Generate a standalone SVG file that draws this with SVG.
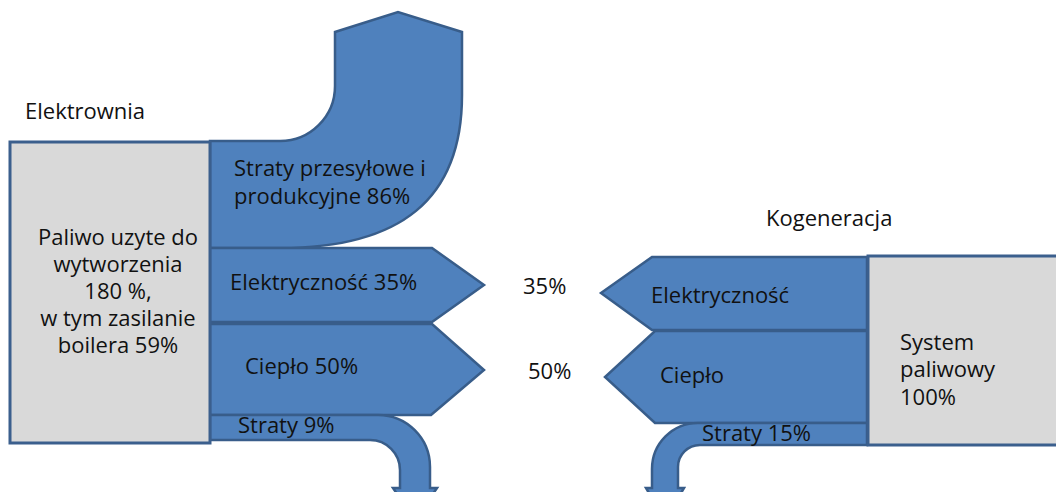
<svg xmlns="http://www.w3.org/2000/svg" width="1056" height="492" viewBox="0 0 1056 492">
<style>
.box{fill:#D9D9D9;stroke:#3B5F8D;stroke-width:3}
.flow{fill:#4F81BD;stroke:#385D8A;stroke-width:2.5;stroke-linejoin:miter}
text{font-family:"Open Sans","DejaVu Sans",sans-serif;font-size:22px;fill:#111}
.c{text-anchor:middle}
</style>
<rect width="1056" height="492" fill="#fff"/>
<g id="labels-top">
<text x="25" y="119">Elektrownia</text>
<text x="766" y="226">Kogeneracja</text>
</g>
<g id="connectors">
<g id="flow-straty86">
<path class="flow" d="M210,141 L280,141 A55,55 0 0 0 335,86 L335,32 L398,12 L462,32 L462,95 C462,200 400,248 280,248 L210,248 Z"/>
<text x="234" y="176">Straty przesyłowe i</text>
<text x="234" y="204">produkcyjne 86%</text>
</g>
<g id="flow-elektr-left">
<path class="flow" d="M210,248 L432,248 L484,285 L432,322 L210,322 Z"/>
<text x="230" y="290">Elektryczność 35%</text>
</g>
<g id="flow-cieplo-left">
<path class="flow" d="M210,324 L432,324 L484,370 L431,415 L210,415 Z"/>
<text x="245" y="374">Ciepło 50%</text>
</g>
<g id="flow-straty9">
<path class="flow" d="M210,415 L378,415 A52,52 0 0 1 430,467 L430,488 L437,488 L415,520 L393,488 L400,488 L400,470 A30,30 0 0 0 370,440 L210,440 Z"/>
<text x="238" y="433">Straty 9%</text>
</g>
<g id="flow-elektr-right">
<path class="flow" d="M867,257 L652,257 L601,293 L652,330 L867,330 Z"/>
<text x="651" y="303">Elektryczność</text>
</g>
<g id="flow-cieplo-right">
<path class="flow" d="M867,331 L655,331 L605,377 L655,423 L867,423 Z"/>
<text x="660" y="383">Ciepło</text>
</g>
<g id="flow-straty15">
<path class="flow" d="M867,423 L698,423 A46,46 0 0 0 652,469 L652,488 L646,488 L665,520 L684,488 L678,488 L678,467 A22,22 0 0 1 700,445 L867,445 Z"/>
<text x="702" y="441">Straty 15%</text>
</g>
</g>
<g id="node-elektrownia">
<rect class="box" x="10" y="142" width="200" height="301"/>
<text class="c" x="118" y="245">Paliwo uzyte do</text>
<text class="c" x="118" y="272">wytworzenia</text>
<text class="c" x="118" y="299">180 %,</text>
<text class="c" x="118" y="326">w tym zasilanie</text>
<text class="c" x="118" y="353">boilera 59%</text>
</g>
<g id="node-kogeneracja">
<rect class="box" x="868" y="256" width="200" height="189"/>
<text x="900" y="350">System</text>
<text x="900" y="377">paliwowy</text>
<text x="900" y="405">100%</text>
</g>
<g id="mid-labels">
<text x="523" y="294">35%</text>
<text x="528" y="379">50%</text>
</g>
</svg>
